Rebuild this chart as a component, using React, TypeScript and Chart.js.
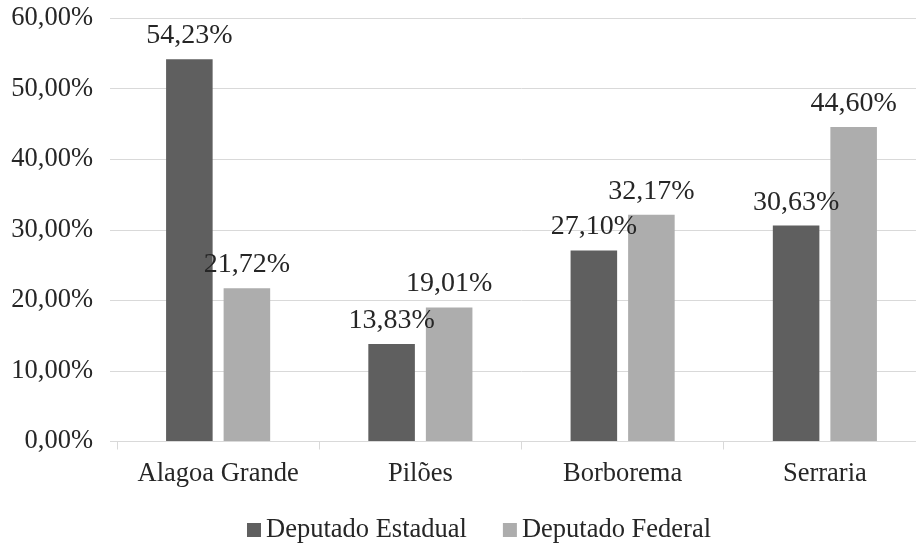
import React, { useEffect, useRef } from "react";
import { Chart, registerables } from "chart.js";

Chart.register(...registerables);

const categories = ["Alagoa Grande", "Pilões", "Borborema", "Serraria"];
const seriesNames = ["Deputado Estadual", "Deputado Federal"];
const estadual = [54.23, 13.83, 27.1, 30.63];
const federal = [21.72, 19.01, 32.17, 44.6];
const colors = ["#5f5f5f", "#adadad"];
const yMin = 0;
const yMax = 60;
const yStep = 10;

const FONT = "'Liberation Serif', 'Times New Roman', serif";
const TEXT = "#262626";

const fmt = (v: number) => v.toFixed(2).replace(".", ",") + "%";

const dataLabelPlugin = {
  id: "dataLabels",
  afterDatasetsDraw(chart: any) {
    const ctx = chart.ctx;
    ctx.save();
    ctx.font = `28px ${FONT}`;
    ctx.fillStyle = TEXT;
    ctx.textAlign = "center";
    ctx.textBaseline = "alphabetic";
    chart.data.datasets.forEach((ds: any, i: number) => {
      const meta = chart.getDatasetMeta(i);
      meta.data.forEach((el: any, j: number) => {
        ctx.fillText(fmt(ds.data[j]), el.x, el.y - 16);
      });
    });
    ctx.restore();
  },
};

const legendPlugin = {
  id: "customLegend",
  afterDraw(chart: any) {
    const ctx = chart.ctx;
    ctx.save();
    ctx.font = `26.5px ${FONT}`;
    const box = 14;
    const boxGap = 5;
    const itemGap = 36;
    const widths = chart.data.datasets.map((ds: any) => ctx.measureText(ds.label).width);
    const total =
      widths.reduce((a: number, w: number) => a + box + boxGap + w, 0) + itemGap * (widths.length - 1);
    let x = 479 - total / 2;
    const baseline = 537;
    chart.data.datasets.forEach((ds: any, i: number) => {
      ctx.fillStyle = ds.backgroundColor;
      ctx.fillRect(x, baseline - box, box, box);
      x += box + boxGap;
      ctx.fillStyle = TEXT;
      ctx.textAlign = "left";
      ctx.textBaseline = "alphabetic";
      ctx.fillText(ds.label, x, baseline);
      x += widths[i] + itemGap;
    });
    ctx.restore();
  },
};

export default function App() {
  const ref = useRef<HTMLCanvasElement>(null);
  useEffect(() => {
    if (!ref.current) return;
    const chart = new Chart(ref.current, {
      type: "bar",
      data: {
        labels: categories,
        datasets: [
          { label: seriesNames[0], data: estadual, backgroundColor: colors[0] },
          { label: seriesNames[1], data: federal, backgroundColor: colors[1] },
        ],
      },
      options: {
        responsive: false,
        animation: false,
        devicePixelRatio: 1,
        layout: { padding: { left: 0, right: 4, top: 18.5, bottom: 40 } },
        datasets: {
          bar: { categoryPercentage: 0.569, barPercentage: 0.809 },
        },
        plugins: {
          legend: { display: false },
          tooltip: { enabled: false },
        },
        scales: {
          x: {
            grid: {
              offset: true,
              drawOnChartArea: false,
              drawTicks: true,
              tickLength: 8,
              color: "#d9d9d9",
            },
            border: { display: true, color: "#d9d9d9" },
            ticks: {
              font: { family: FONT, size: 26.5 },
              color: TEXT,
              padding: 9,
              maxRotation: 0,
              autoSkip: false,
            },
            afterFit(scale: any) {
              scale.height = 61.5;
              scale.paddingLeft = 0;
              scale.paddingRight = 0;
            },
          },
          y: {
            min: yMin,
            max: yMax,
            ticks: {
              stepSize: yStep,
              font: { family: FONT, size: 26.5 },
              color: TEXT,
              padding: 17,
              callback: (v: any) => fmt(Number(v)),
            },
            grid: { color: "#d9d9d9", tickLength: 7, drawTicks: true },
            border: { display: false },
            afterFit(scale: any) {
              scale.width = 117;
              scale.paddingTop = 0;
              scale.paddingBottom = 0;
            },
          },
        },
      },
      plugins: [dataLabelPlugin, legendPlugin],
    });
    return () => chart.destroy();
  }, []);
  return (
    <div
      style={{
        position: "absolute",
        left: 0,
        top: 0,
        width: 916,
        height: 543,
        overflow: "hidden",
        background: "#fff",
      }}
    >
      <canvas ref={ref} width={930} height={543} style={{ display: "block" }} />
    </div>
  );
}
